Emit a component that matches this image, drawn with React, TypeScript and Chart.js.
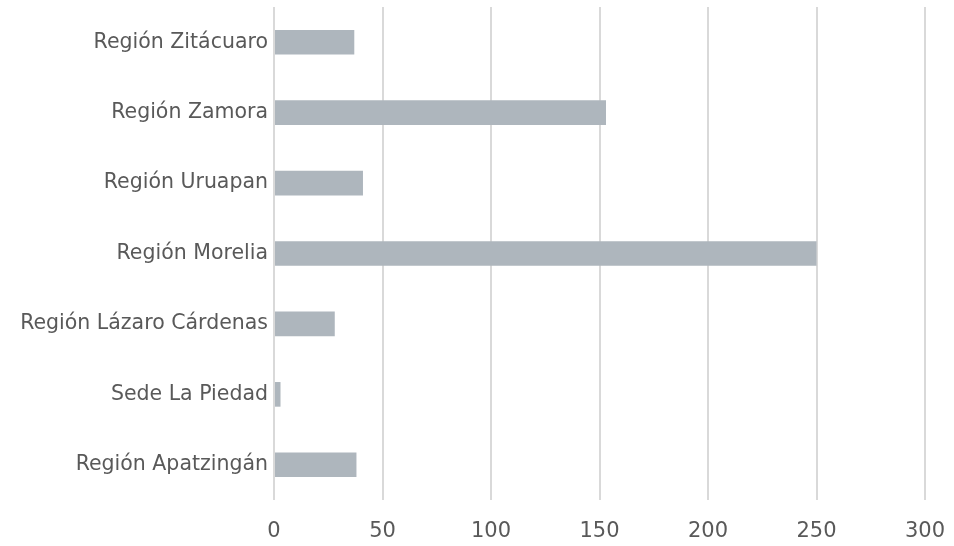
import React, { useEffect, useRef } from "react";
import { Chart, registerables } from "chart.js";

Chart.register(...registerables);

const categories = [
  "Región Zitácuaro",
  "Región Zamora",
  "Región Uruapan",
  "Región Morelia",
  "Región Lázaro Cárdenas",
  "Sede La Piedad",
  "Región Apatzingán",
];
const values = [37, 153, 41, 250, 28, 3, 38];
const xMin = 0;
const xMax = 300;
const xStep = 50;

const FONT = "'DejaVu Sans', sans-serif";
const TEXT = "#595959";

function zeroPad(scale: any) {
  scale.paddingLeft = 0;
  scale.paddingRight = 0;
  scale.paddingTop = 0;
  scale.paddingBottom = 0;
}

export default function App() {
  const ref = useRef<HTMLCanvasElement | null>(null);

  useEffect(() => {
    if (!ref.current) return;
    const chart = new Chart(ref.current, {
      type: "bar",
      data: {
        labels: categories,
        datasets: [
          {
            data: values,
            backgroundColor: "#AEB6BD",
            borderWidth: 0,
            categoryPercentage: 1,
            barPercentage: 0.35,
          },
        ],
      },
      options: {
        indexAxis: "y",
        responsive: false,
        animation: false,
        layout: {
          autoPadding: false,
          padding: { top: 7, right: 29, bottom: 0, left: 0 },
        },
        plugins: { legend: { display: false }, tooltip: { enabled: false } },
        scales: {
          x: {
            min: xMin,
            max: xMax,
            ticks: {
              stepSize: xStep,
              padding: 19,
              color: TEXT,
              font: { family: FONT, size: 21 },
            },
            grid: { color: "#D9D9D9", lineWidth: 2, drawTicks: false },
            border: { display: false },
            afterFit: (scale: any) => {
              scale.height = 46;
              zeroPad(scale);
            },
          },
          y: {
            ticks: {
              padding: 6,
              color: TEXT,
              font: { family: FONT, size: 20.5 },
            },
            grid: { display: false, drawTicks: false },
            border: { display: false },
            afterFit: (scale: any) => {
              scale.width = 274;
              zeroPad(scale);
            },
          },
        },
      },
    });
    return () => chart.destroy();
  }, []);

  return (
    <canvas
      ref={ref}
      width={954}
      height={546}
      style={{ position: "absolute", left: 0, top: 0, width: 954, height: 546 }}
    />
  );
}
